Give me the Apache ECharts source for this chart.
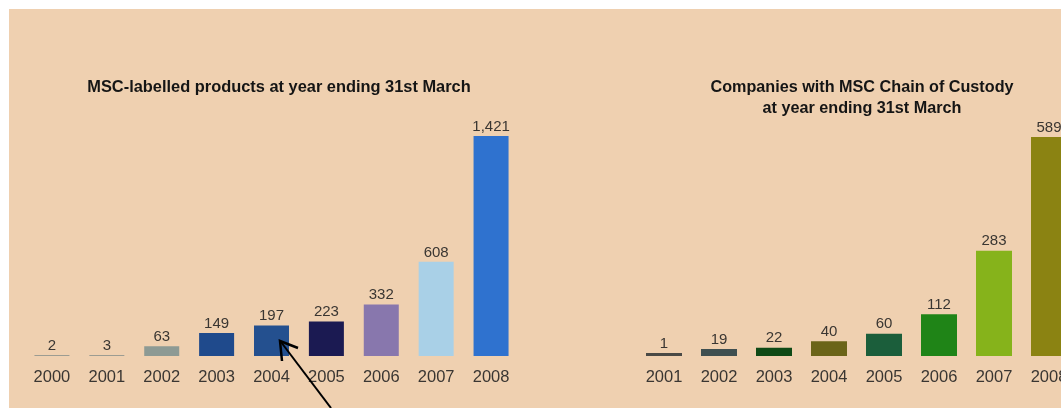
<!DOCTYPE html>
<html>
<head>
<meta charset="utf-8">
<script src="https://cdn.jsdelivr.net/npm/echarts@6/dist/echarts.min.js"></script>
<style>
html,body{margin:0;padding:0;background:#ffffff;overflow:hidden;width:1061px;height:408px;}
#chart{width:1100px;height:408px;}
</style>
</head>
<body>
<div id="chart"></div>
<script>
// ---- data ----
const productYears = ['2000','2001','2002','2003','2004','2005','2006','2007','2008'];
const productValues = [2, 3, 63, 149, 197, 223, 332, 608, 1421];
const companyYears = ['2001','2002','2003','2004','2005','2006','2007','2008'];
const companyValues = [1, 19, 22, 40, 60, 112, 283, 589];
const productTitle = 'MSC-labelled products at year ending 31st March';
const companyTitle = 'Companies with MSC Chain of Custody\nat year ending 31st March';

// ---- styles ----
const productColors = ['#9c9c92','#9c9c92','#8d9a94','#1f4a8c','#24508f','#1b1a52','#8877ad','#a9d0e7','#2f72cf'];
const companyColors = ['#4a4a46','#3f4f50','#0f4a16','#6b6418','#1b5e3b','#1f8417','#86b31b','#8b8312'];
const FONT = '"Liberation Sans", Arial, Helvetica, sans-serif';
const PEACH = '#efd0b0';
const TEXT = '#3a3632';

function dataWithColors(values, colors){
  return values.map((v,i)=>({value:v, itemStyle:{color:colors[i]}}));
}
function fmt(p){ return Number(p.value).toLocaleString('en-US'); }

const chart = echarts.init(document.getElementById('chart'), null, {renderer:'canvas', width:1100, height:408});
chart.setOption({
  backgroundColor:'#ffffff',
  animation:false,
  title:[
    {text:productTitle, left:274, top:72, textAlign:'center',
     textStyle:{fontFamily:FONT, fontSize:16.4, fontWeight:'bold', color:'#151515', lineHeight:20}},
    {text:companyTitle, left:857, top:72, textAlign:'center',
     textStyle:{fontFamily:FONT, fontSize:16.2, fontWeight:'bold', color:'#151515', lineHeight:21}}
  ],
  grid:[
    {left:24.5, width:494, top:136, height:220, containLabel:false},
    {left:636.5, width:440, top:137, height:219, containLabel:false}
  ],
  xAxis:[
    {type:'category', gridIndex:0, data:productYears,
     axisLine:{show:false}, axisTick:{show:false},
     axisLabel:{margin:13, fontFamily:FONT, fontSize:16.5, color:TEXT}},
    {type:'category', gridIndex:1, data:companyYears,
     axisLine:{show:false}, axisTick:{show:false},
     axisLabel:{margin:13, fontFamily:FONT, fontSize:16.5, color:TEXT}}
  ],
  yAxis:[
    {type:'value', gridIndex:0, min:0, max:1421, show:false, splitLine:{show:false}},
    {type:'value', gridIndex:1, min:0, max:589, show:false, splitLine:{show:false}}
  ],
  series:[
    {type:'bar', xAxisIndex:0, yAxisIndex:0, barWidth:35, barMinHeight:1,
     data:dataWithColors(productValues, productColors),
     label:{show:true, position:'top', distance:2, formatter:fmt,
            fontFamily:FONT, fontSize:15, color:TEXT}},
    {type:'bar', xAxisIndex:1, yAxisIndex:1, barWidth:36, barMinHeight:3,
     data:dataWithColors(companyValues, companyColors),
     label:{show:true, position:'top', distance:2, formatter:fmt,
            fontFamily:FONT, fontSize:15, color:TEXT}}
  ],
  graphic:[
    {type:'rect', z:-10, silent:true, shape:{x:9, y:9, width:1091, height:399}, style:{fill:PEACH}},
    {type:'polyline', z:100, shape:{points:[[331,408],[281,342]]}, style:{stroke:'#000', lineWidth:2, fill:null}},
    {type:'polyline', z:100, shape:{points:[[282,361],[280,341],[298,348]]}, style:{stroke:'#000', lineWidth:2.5, fill:null}}
  ]
});
</script>
</body>
</html>
